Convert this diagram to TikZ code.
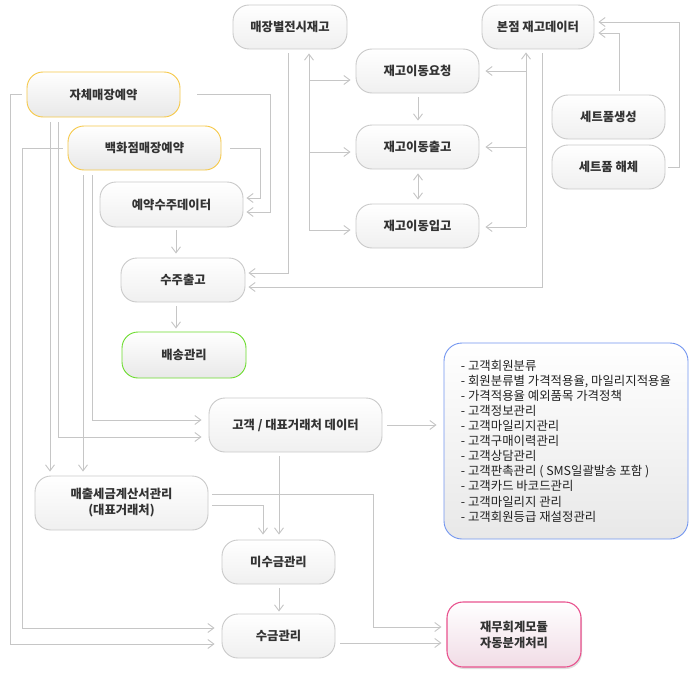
\documentclass[tikz,border=0pt]{standalone}
\usepackage{fontspec}
\setmainfont{Noto Sans CJK KR}
\usetikzlibrary{arrows.meta,shadows}
\definecolor{lineg}{HTML}{C6C6C6}
\definecolor{boxb}{HTML}{CACACA}
\definecolor{txt}{HTML}{333333}
\definecolor{ltxt}{HTML}{222222}
\definecolor{yel}{HTML}{F6C94A}
\definecolor{grn}{HTML}{6CDC2E}
\definecolor{pnk}{HTML}{E9528E}
\definecolor{blu}{HTML}{7396F0}
\definecolor{pnkfill}{HTML}{F1DCE6}
\begin{document}
\begin{tikzpicture}[x=1pt,y=-1pt,
  conn/.style={draw=lineg, line width=0.9pt},
  arr/.style={conn, -{Straight Barb[length=6pt,width=9pt]}},
  box/.style={draw=boxb, line width=0.9pt, rounded corners=16pt,
    top color=white, bottom color=black!6, text=txt,
    font=\fontsize{12.3pt}{16pt}\selectfont\bfseries, align=center, inner sep=0pt},
  ybox/.style={box, draw=yel, bottom color=black!9},
  gbox/.style={box, draw=grn, bottom color=black!9},
  pbox/.style={box, draw=pnk, bottom color=pnkfill, line width=1.1pt,
    drop shadow={shadow xshift=1pt, shadow yshift=-2pt, opacity=0.25}},
  lbox/.style={box, draw=blu, bottom color=black!9, rounded corners=18pt, text=ltxt,
    align=left, font=\fontsize{12.4pt}{15.1pt}\selectfont}
]
\useasboundingbox (0,0) rectangle (699,677);
\fill[white] (0,0) rectangle (699,677);

% nodes
\node[box, minimum width=114pt, minimum height=44pt] (mjb) at (290,27) {매장별전시재고};
\node[box, minimum width=112pt, minimum height=44pt] (bonjeom) at (538,27) {본점 재고데이터};
\node[ybox, minimum width=153pt, minimum height=45pt] (jache) at (103.5,94.5) {자체매장예약};
\node[ybox, minimum width=153pt, minimum height=44pt] (baekhwa) at (144.5,148) {백화점매장예약};
\node[box, minimum width=143pt, minimum height=45pt] (yeyak) at (171.5,204.5) {예약수주데이터};
\node[box, minimum width=123pt, minimum height=44pt] (req) at (417.5,71) {재고이동요청};
\node[box, minimum width=123pt, minimum height=44pt] (out) at (417.5,147) {재고이동출고};
\node[box, minimum width=123pt, minimum height=44pt] (in) at (417.5,226) {재고이동입고};
\node[box, minimum width=113pt, minimum height=44pt] (setgen) at (608.5,117) {세트품생성};
\node[box, minimum width=113pt, minimum height=44pt] (setdis) at (608.5,167) {세트품 해체};
\node[box, minimum width=124pt, minimum height=44pt] (suju) at (183,280) {수주출고};
\node[gbox, minimum width=124pt, minimum height=46pt] (baesong) at (184,355) {배송관리};
\node[box, minimum width=173pt, minimum height=54pt] (gogaek) at (295.5,425) {고객 / 대표거래처 데이터};
\node[lbox, minimum width=244pt, minimum height=196pt] (list) at (566,441)
  {- 고객회원분류\\
   - 회원분류별 가격적용율, 마일리지적용율\\
   - 가격적용율 예외품목 가격정책\\
   - 고객정보관리\\
   - 고객마일리지관리\\
   - 고객구매이력관리\\
   - 고객상담관리\\
   - 고객판촉관리 ( SMS일괄발송 포함 )\\
   - 고객카드 바코드관리\\
   - 고객마일리지 관리\\
   - 고객회원등급 재설정관리};
\node[box, minimum width=173pt, minimum height=54pt] (maechul) at (121.5,503) {매출세금계산서관리\\(대표거래처)};
\node[box, minimum width=113pt, minimum height=44pt] (misu) at (278.5,562) {미수금관리};
\node[box, minimum width=113pt, minimum height=44pt] (sugeum) at (278.5,636) {수금관리};
\node[pbox, minimum width=134pt, minimum height=65pt] (jaemu) at (514,634.5) {재무회계모듈\\자동분개처리};

% connectors
\draw[arr, shorten >=3pt] ([xshift=17pt]jache.east) -| (270,212) -- (yeyak.east |- 0,212);
\draw[arr, shorten >=3pt] ([xshift=9pt]baekhwa.east) -| (260,198) -- (yeyak.east |- 0,198);
\draw[arr, shorten >=7pt] ([xshift=-5pt]jache.west) -| (10,644) -- (sugeum.west |- 0,644);
\draw[arr, shorten >=7pt] ([xshift=-5pt]baekhwa.west) -| (22,628) -- (sugeum.west |- 0,628);
\draw[arr, shorten <=5pt, shorten >=4pt] (jache.south -| 50,0) -- (maechul.north -| 50,0);
\draw[arr, shorten <=5pt, shorten >=7pt] (jache.south -| 58,0) |- (gogaek.west |- 0,437);
\draw[arr, shorten <=5pt, shorten >=4pt] (baekhwa.south -| 83,0) -- (maechul.north -| 83,0);
\draw[arr, shorten <=5pt, shorten >=7pt] (baekhwa.south -| 92,0) |- (gogaek.west |- 0,420);
\draw[arr, shorten <=3pt, shorten >=4pt] (yeyak.south -| 176,0) -- (suju.north -| 176,0);
\draw[arr, shorten <=4pt, shorten >=3pt] (suju.south -| 176,0) -- (baesong.north -| 176,0);
\draw[arr, shorten <=4pt, shorten >=3pt] (mjb.south -| 288,0) |- (suju.east |- 0,273);
\draw[arr, shorten <=4pt, shorten >=3pt] (bonjeom.south -| 542,0) |- (suju.east |- 0,287);

\coordinate (busA) at (309,230);
\draw[arr, shorten >=4pt] (busA) -- (mjb.south -| busA);
\draw[arr, shorten >=5pt] (busA |- 0,80) -- (req.west |- 0,80);
\draw[arr, shorten >=5pt] (busA |- 0,152) -- (out.west |- 0,152);
\draw[arr, shorten >=5pt] (busA) -- (in.west |- busA);

\coordinate (busB) at (526,227);
\draw[arr, shorten >=3pt] (busB) -- (bonjeom.south -| busB);
\draw[arr, shorten >=6pt] (busB |- req.east) -- (req.east);
\draw[arr, shorten >=6pt] (busB |- out.east) -- (out.east);
\draw[arr, shorten >=6pt] (busB) -- (in.east |- busB);

\draw[arr, shorten <=4pt, shorten >=4pt] (req.south -| 418,0) -- (out.north -| 418,0);
\draw[conn, {Straight Barb[length=6pt,width=9pt]}-{Straight Barb[length=6pt,width=9pt]}, shorten <=4pt, shorten >=4pt] (out.south -| 418,0) -- (in.north -| 418,0);

\draw[arr, shorten <=4pt, shorten >=4pt] (setgen.north -| 619,0) |- (bonjeom.east |- 0,33);
\draw[arr, shorten >=4pt] ([xshift=3pt]setdis.east) -| (679,22) -- (bonjeom.east |- 0,22);

\draw[arr, shorten <=5pt, shorten >=7pt] (gogaek.east) -- (gogaek.east -| list.west);
\draw[arr, shorten <=4pt, shorten >=5pt] (gogaek.south -| 279,0) -- (misu.north -| 279,0);
\draw[arr, shorten >=5pt] ([xshift=4pt]maechul.east |- 0,505) -| (misu.north -| 263,0);
\draw[arr, shorten >=5pt] ([xshift=4pt]maechul.east |- 0,494) -| (373,627) -- (jaemu.west |- 0,627);
\draw[arr, shorten <=4pt, shorten >=2pt] (misu.south -| 279,0) -- (sugeum.north -| 279,0);
\draw[arr, shorten <=5pt, shorten >=5pt] (sugeum.east |- 0,643) -- (jaemu.west |- 0,643);
\end{tikzpicture}
\end{document}
